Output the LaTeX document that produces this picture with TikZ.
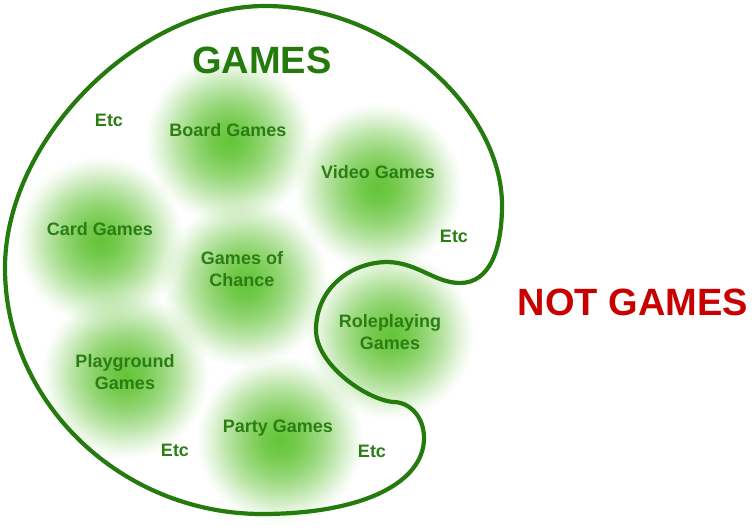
\documentclass[tikz,border=0pt]{standalone}
\usepackage{fontspec}
\setmainfont{Liberation Sans}
\usetikzlibrary{fadings}

\definecolor{outlinegreen}{RGB}{36,122,12}
\definecolor{textgreen}{RGB}{44,126,20}
\definecolor{glowgreen}{RGB}{100,196,56}
\definecolor{notred}{RGB}{200,0,0}

% soft round spot: opaque in the middle, gone at the rim
\pgfdeclareradialshading{glowshading}{\pgfpointorigin}{color(0bp)=(white); color(5bp)=(white!90!black); color(11bp)=(white!68!black); color(16bp)=(white!44!black); color(20bp)=(white!22!black); color(23bp)=(white!7!black); color(25bp)=(black); color(50bp)=(black)}
\pgfdeclarefading{glowfade}{\pgfuseshading{glowshading}}

\begin{document}
\begin{tikzpicture}[
    x=1pt, y=1pt,
    blob/.style={fill=glowgreen, path fading=glowfade},
    outline/.style={draw=outlinegreen, line width=4.2pt},
    gamelabel/.style={font=\fontsize{18}{22}\selectfont\bfseries, text=textgreen, align=center, text depth=0pt, inner sep=0pt},
    etclabel/.style={gamelabel},
    title/.style={font=\fontsize{38}{44}\selectfont\bfseries, text depth=0pt, inner sep=0pt}
]
\useasboundingbox (0,0) rectangle (756,529);

% glow centres
\coordinate (board-c) at (229,389);
\coordinate (video-c) at (378,342);
\coordinate (card-c) at (100,289);
\coordinate (chance-c) at (245,246);
\coordinate (roleplay-c) at (390,194);
\coordinate (playground-c) at (125,154);
\coordinate (party-c) at (280,89);

\foreach \c in {board-c,video-c,card-c,chance-c,roleplay-c,playground-c,party-c}
    \fill[blob] (\c) circle (84);

% the games outline
\draw[outline]
    (265,523) .. controls (140,523) and (5,391) .. (5,261)
    .. controls (5,126) and (122,15) .. (262,15)
    .. controls (362,15) and (424,46) .. (424,91)
    .. controls (424,112) and (410,127) .. (393,127)
    .. controls (365,130) and (316,165) .. (316,199)
    .. controls (316,240) and (350,267) .. (388,267)
    .. controls (418,266) and (435,246) .. (460,246)
    .. controls (490,246) and (502,280) .. (502,324)
    .. controls (502,420) and (390,523) .. (265,523) -- cycle;

\node[title, text=outlinegreen] (games) at (262,469) {GAMES};
\node[title, text=notred] (notgames) at (633,227) {NOT GAMES};

\node[gamelabel] (board) at (228,399) {Board Games};
\node[gamelabel] (video) at (378,357) {Video Games};
\node[gamelabel] (card) at (100,300) {Card Games};
\node[gamelabel] (chance) at (242,260) {Games of\\Chance};
\node[gamelabel] (roleplay) at (390,197) {Roleplaying\\Games};
\node[gamelabel] (playground) at (125,157) {Playground\\Games};
\node[gamelabel] (party) at (278,103) {Party Games};

\node[etclabel] (etc1) at (109,409) {Etc};
\node[etclabel] (etc2) at (454,293) {Etc};
\node[etclabel] (etc3) at (175,79) {Etc};
\node[etclabel] (etc4) at (372,78) {Etc};

\end{tikzpicture}
\end{document}
